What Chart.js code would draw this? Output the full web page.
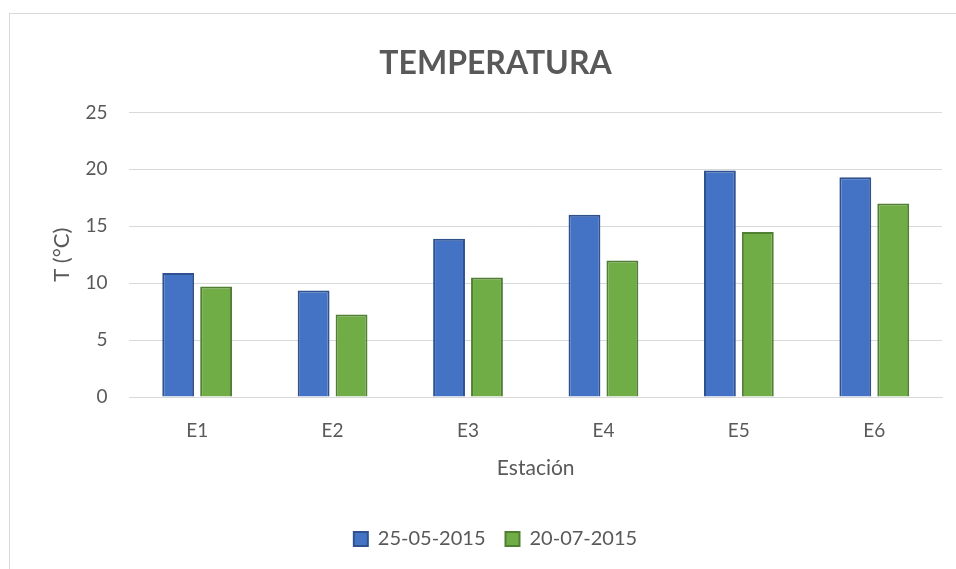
<!DOCTYPE html>
<html>
<head>
<meta charset="utf-8">
<script src="https://cdn.jsdelivr.net/npm/chart.js@4"></script>
<style>
  html, body { margin: 0; padding: 0; background: #fff; overflow: hidden; }
  #frame { position: absolute; left: 9px; top: 13px; width: 960px; height: 570px; border: 1px solid #d9d9d9; box-sizing: border-box; }
  #wrap { position: absolute; left: 0; top: 0; width: 956px; height: 569px; overflow: hidden; }
</style>
</head>
<body>
<div id="frame"></div>
<div id="wrap"><canvas id="bar-chart" width="1000" height="569"></canvas></div>
<script>
const CHART = document.getElementById("bar-chart");

const estaciones = ['E1', 'E2', 'E3', 'E4', 'E5', 'E6'];
const mayo = [10.9, 9.35, 13.9, 16.0, 19.9, 19.3];
const julio = [9.7, 7.25, 10.5, 12.0, 14.5, 17.0];
const yTicks = [0, 5, 10, 15, 20, 25];

const FONT = 'Lato, "Open Sans", sans-serif';
const GREY = '#595959';

Chart.defaults.font.family = FONT;
Chart.defaults.color = GREY;

let barChart = new Chart(CHART, {
  type: 'bar',
  data: {
    labels: estaciones,
    datasets: [
      {
        label: '25-05-2015',
        backgroundColor: '#4472C4',
        borderColor: '#2F528F',
        borderWidth: 2,
        data: mayo,
      },
      {
        label: '20-07-2015',
        backgroundColor: '#70AD47',
        borderColor: '#507E32',
        borderWidth: 2,
        data: julio,
      }
    ]
  },
  options: {
    responsive: false,
    animation: false,
    categoryPercentage: 0.56,
    barPercentage: 0.84,
    layout: { padding: { left: 49, right: 58, top: 30, bottom: 10 } },
    plugins: {
      title: {
        display: true,
        text: 'TEMPERATURA',
        color: GREY,
        font: { size: 32, weight: 'bold' },
        padding: { top: 14, bottom: 30 }
      },
      legend: {
        position: 'bottom',
        labels: {
          color: GREY,
          font: { size: 20 },
          boxWidth: 14,
          boxHeight: 14,
          padding: 20
        }
      },
      tooltip: { enabled: false }
    },
    scales: {
      x: {
        grid: { display: false },
        border: { color: '#d9d9d9' },
        ticks: { color: GREY, font: { size: 19 }, padding: 14 },
        title: { display: true, text: 'Estación', color: GREY, font: { size: 21 }, padding: { top: 0, bottom: 28 } }
      },
      y: {
        min: 0,
        max: 25,
        afterBuildTicks: (axis) => { axis.ticks = yTicks.map(v => ({ value: v })); },
        grid: { color: '#d9d9d9', lineWidth: 1, drawTicks: false },
        border: { display: false },
        ticks: { color: GREY, font: { size: 19 }, padding: 22 },
        title: { display: true, text: 'T (°C)', color: GREY, font: { size: 22 }, padding: { top: 0, bottom: -12 } }
      }
    }
  }
});
</script>
</body>
</html>
